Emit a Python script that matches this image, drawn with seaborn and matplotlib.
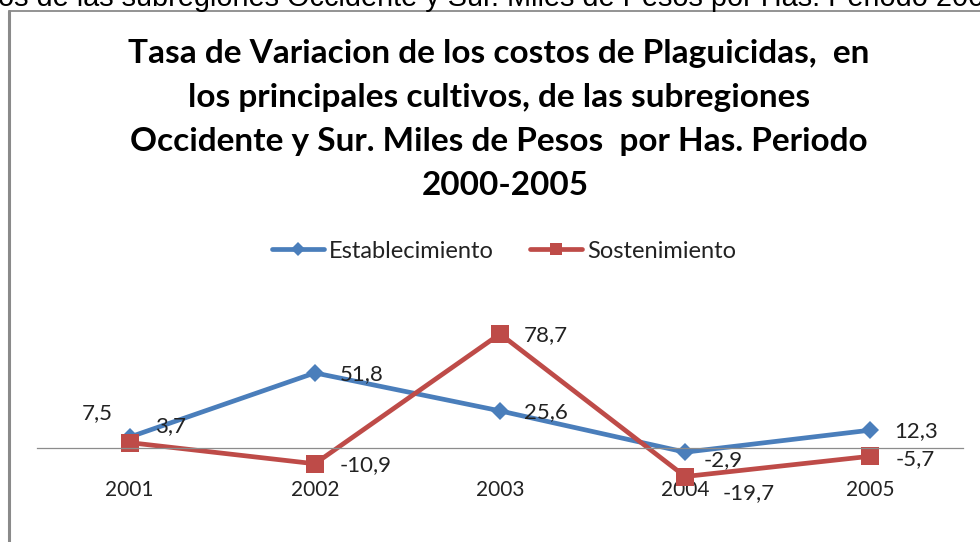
import pandas as pd
import numpy as np
import matplotlib.pyplot as plt
import seaborn as sns
from matplotlib.lines import Line2D

# data
years = ['2001', '2002', '2003', '2004', '2005']
establecimiento = [7.5, 51.8, 25.6, -2.9, 12.3]
sostenimiento = [3.7, -10.9, 78.7, -19.7, -5.7]
series_names = ['Establecimiento', 'Sostenimiento']

title_lines = ['Tasa de Variacion de los costos de Plaguicidas,  en',
               'los principales cultivos, de las subregiones',
               'Occidente y Sur. Miles de Pesos  por Has. Periodo',
               '2000-2005']
top_text = 'os de las subregiones Occidente y Sur. Miles de Pesos por Has. Periodo 2000'

df = pd.DataFrame({'year': years * 2,
                   'valor': establecimiento + sostenimiento,
                   'serie': [series_names[0]] * 5 + [series_names[1]] * 5})

sns.set_theme(style='white')
plt.rcParams['font.family'] = ['Lato', 'DejaVu Sans']

W, H = 980, 542
fig = plt.figure(figsize=(9.8, 5.42), dpi=100)
fig.patch.set_facecolor('white')

# clipped document text above the chart
fig.text(-2 / W, 1 - 6 / H, top_text, fontsize=20.8, family=['Liberation Sans', 'DejaVu Sans'],
         color='black', ha='left', va='baseline')

# chart frame (left and top edges visible)
fig.add_artist(Line2D([9 / W, 9 / W], [0, 1 - 11 / H], color='#8a8a8a', lw=2.2))
fig.add_artist(Line2D([9 / W, 1], [1 - 11 / H, 1 - 11 / H], color='#8a8a8a', lw=1.3))

# title
baselines = [63, 107, 151, 195]
centers = [499, 499, 499, 505]
for line, yb, xc in zip(title_lines, baselines, centers):
    fig.text(xc / W, 1 - yb / H, line, fontsize=24, fontweight='bold',
             ha='center', va='baseline', color='black')

ax = fig.add_axes([37 / W, 1 - 530 / H, (963 - 37) / W, 250 / H])
ax.set_facecolor('none')

palette = {'Establecimiento': '#4A7EBB', 'Sostenimiento': '#BE4B48'}
markers = {'Establecimiento': 'D', 'Sostenimiento': 's'}
sns.lineplot(data=df, x='year', y='valor', hue='serie', style='serie',
             palette=palette, markers=markers, dashes=False, lw=3.4,
             ax=ax, sort=False)
for ln in ax.lines:
    if ln.get_marker() == 'D':
        ln.set_markersize(9.5)
    else:
        ln.set_markersize(13)
    ln.set_markeredgewidth(0)

ax.set_xlim(-0.5, 4.5)
ax.set_ylim(-56.6, 115.9)
ax.set_xlabel('')
ax.set_ylabel('')
ax.set_yticks([])
for s in ['top', 'right', 'left']:
    ax.spines[s].set_visible(False)
ax.spines['bottom'].set_position(('data', 0))
ax.spines['bottom'].set_color('#8c8c8c')
ax.spines['bottom'].set_linewidth(0.9)
ax.tick_params(axis='x', length=0, pad=23, labelsize=15, labelcolor='#222222')

# data labels, offsets in points
off_est = [(-23, 17, 'center'), (18, -1, 'left'), (17, -1, 'left'), (13, -6, 'left'), (17, -1, 'left')]
off_sos = [(18, 12, 'left'), (18, -1, 'left'), (17, -1, 'left'), (27, -12, 'left'), (18, -2, 'left')]
for vals, offs in [(establecimiento, off_est), (sostenimiento, off_sos)]:
    for i, (v, (dx, dy, ha)) in enumerate(zip(vals, offs)):
        ax.annotate(f'{v:.1f}'.replace('.', ','), (i, v), xytext=(dx, dy),
                    textcoords='offset points', ha=ha, va='center',
                    fontsize=16, color='#222222')

leg = ax.legend(ncol=2, frameon=False, loc='center', fontsize=17,
                bbox_to_anchor=(504 / W, 1 - 251 / H), bbox_transform=fig.transFigure,
                handlelength=2.2, handletextpad=0.2, columnspacing=1.55)
for h in leg.legend_handles:
    if h.get_marker() == 'D':
        h.set_markersize(7)
    else:
        h.set_markersize(9)
for t in leg.get_texts():
    t.set_color('#222222')

fig.savefig('out.png', dpi=100)
